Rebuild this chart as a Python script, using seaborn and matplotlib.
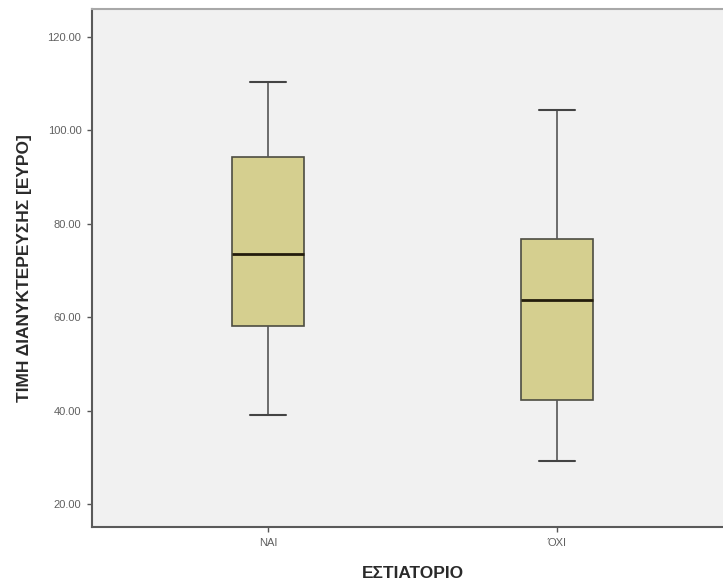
import matplotlib
matplotlib.use("Agg")
import matplotlib.pyplot as plt
import numpy as np
import pandas as pd
import seaborn as sns

# Five-number summaries (min, Q1, median, Q3, max) per restaurant group
categories = ["ΝΑΙ", "ΌΧΙ"]
nai_values = [39.0, 58.2, 73.6, 94.2, 110.2]
oxi_values = [29.3, 42.2, 63.7, 76.8, 104.2]
y_ticks = [20, 40, 60, 80, 100, 120]

df = pd.DataFrame({
    "ΕΣΤΙΑΤΟΡΙΟ": [categories[0]] * len(nai_values) + [categories[1]] * len(oxi_values),
    "ΤΙΜΗ": nai_values + oxi_values,
})

sns.set_theme(style="ticks")
plt.rcParams["font.family"] = ["Liberation Sans", "DejaVu Sans"]

fig = plt.figure(figsize=(7.23, 5.84), dpi=100)
ax = fig.add_axes([0.1272, 0.0976, 0.8866, 0.887])
ax.set_facecolor("#f1f1f1")

sns.boxplot(
    data=df, x="ΕΣΤΙΑΤΟΡΙΟ", y="ΤΙΜΗ", order=categories, ax=ax,
    width=0.25, color="#d5cf8f", saturation=1, linecolor="#4d4d42",
    linewidth=1.2, whis=1.5,
    medianprops=dict(color="#231c0c", linewidth=2.0),
    whiskerprops=dict(color="#555555", linewidth=1.2),
    capprops=dict(color="#444444", linewidth=1.5),
)

ax.set_xlim(-0.609, 1.609)
ax.set_ylim(15.1, 125.9)
ax.set_yticks(y_ticks)
ax.set_yticklabels([f"{v:.2f}" for v in y_ticks])

ax.tick_params(axis="both", direction="out", length=3.6, width=1.0,
               color="#555555", labelcolor="#606060", labelsize=8)
ax.tick_params(axis="y", pad=4)
ax.tick_params(axis="x", pad=4)

for side in ["left", "bottom"]:
    ax.spines[side].set_color("#5a5a5a")
    ax.spines[side].set_linewidth(1.5)
ax.spines["top"].set_visible(True)
ax.spines["top"].set_color("#a8a8a8")
ax.spines["top"].set_linewidth(1.5)
ax.spines["right"].set_visible(False)

ax.set_xlabel("ΕΣΤΙΑΤΟΡΙΟ", fontsize=12.5, fontweight="bold", color="#2a2a2a", labelpad=13)
ax.set_ylabel("ΤΙΜΗ ΔΙΑΝΥΚΤΕΡΕΥΣΗΣ [ΕΥΡΟ]", fontsize=12.5, fontweight="bold", color="#2a2a2a", labelpad=11)
ax.grid(False)

fig.savefig("out.png", dpi=100, facecolor="white")
